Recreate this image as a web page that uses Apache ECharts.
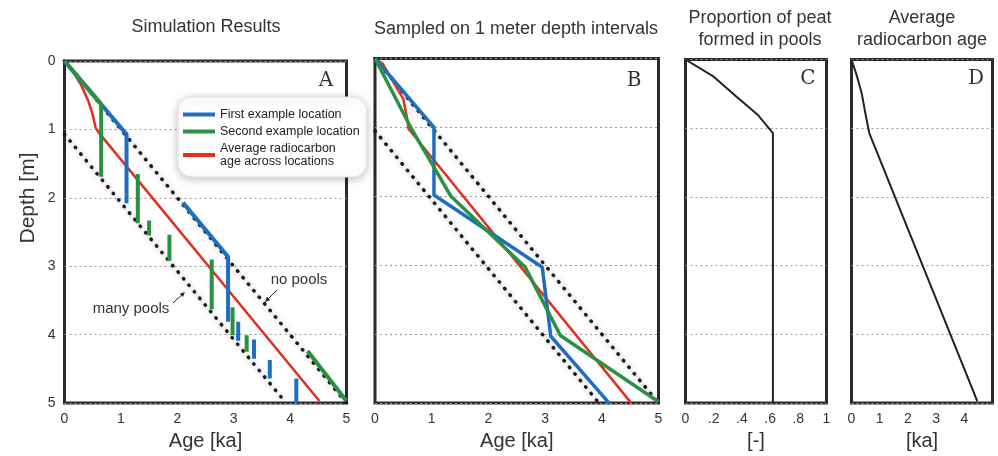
<!DOCTYPE html>
<html>
<head>
<meta charset="utf-8">
<script src="https://cdn.jsdelivr.net/npm/echarts@6/dist/echarts.min.js"></script>
<style>
  html, body { margin: 0; padding: 0; background: #fff; }
  #chart { width: 998px; height: 456px; }
</style>
</head>
<body>
<div id="chart"></div>
<script>
// [age ka, depth m] pairs, null = gap in the line
var ageTicks = [0, 1, 2, 3, 4, 5];
var depthTicks = [0, 1, 2, 3, 4, 5];
var propTicks = ['0', '.2', '.4', '.6', '.8', '1'];

var simBlue = [[0, 0], [1.10, 1.07], [1.10, 2.08], null,
  [2.10, 2.07], [2.90, 2.86], [2.90, 3.81], null,
  [3.08, 3.81], [3.08, 4.09], null,
  [3.36, 4.07], [3.36, 4.35], null,
  [3.64, 4.37], [3.64, 4.64], null,
  [4.11, 4.64], [4.11, 5.0]];
var simGreen = [[0, 0], [0.65, 0.63], [0.65, 1.69], null,
  [1.30, 1.65], [1.30, 2.37], null,
  [1.50, 2.33], [1.50, 2.55], null,
  [1.86, 2.54], [1.86, 2.92], null,
  [2.61, 2.90], [2.61, 3.63], null,
  [2.98, 3.60], [2.98, 4.01], null,
  [3.23, 4.01], [3.23, 4.25], null,
  [4.31, 4.24], [5.0, 4.97]];
var simRed = [[0, 0], [0.15, 0.15], [0.30, 0.36], [0.42, 0.58], [0.50, 0.78], [0.55, 0.97], [0.60, 1.04], [4.52, 4.97]];

var sampBlue = [[0, 0], [1.04, 1.0], [1.04, 1.98], [2.95, 3.03], [3.10, 4.03], [4.13, 5.0]];
var sampGreen = [[0, 0], [0.65, 1.03], [1.34, 2.0], [2.65, 3.03], [3.27, 4.02], [5.0, 4.98]];
var sampRed = [[0, 0], [0.14, 0.08], [0.50, 0.59], [0.57, 0.88], [0.59, 1.02], [4.52, 5.0]];

var noPools = [[0, 0], [5, 5]];
var manyPoolsA = [[0, 1.07], [3.93, 5]];
var manyPoolsB = [[0, 1.05], [3.95, 5]];

var poolFraction = [[0, 0], [0.20, 0.25], [0.36, 0.54], [0.51, 0.80], [0.62, 1.07], [0.62, 5]];
var avgAge = [[0, 0], [0.20, 0.25], [0.36, 0.49], [0.50, 0.80], [0.63, 1.07], [4.46, 4.97]];

var BLUE = '#1f6fc0', GREEN = '#2a9141', RED = '#e2301f', INK = '#2a2a2a', TXT = '#333';
var FONT = 'Liberation Sans';
var nameBlue = 'First example location';
var nameGreen = 'Second example location';
var nameRed = 'Average radiocarbon\nage across locations';

var myChart = echarts.init(document.getElementById('chart'));

function grid(left, top, right, bottom) {
    return {
        left: left, top: top, width: right - left, height: bottom - top,
        show: true, borderColor: INK, borderWidth: 3, backgroundColor: 'transparent'
    };
}

function xAx(idx, max, name, fmt) {
    return {
        gridIndex: idx, type: 'value', min: 0, max: max, interval: max / 5,
        axisLine: { show: false }, axisTick: { show: false }, splitLine: { show: false },
        axisLabel: { color: TXT, fontSize: 14, fontFamily: FONT, margin: 9, formatter: fmt },
        name: name, nameLocation: 'middle', nameGap: 24,
        nameTextStyle: { color: TXT, fontSize: 20, fontFamily: FONT }
    };
}

function yAx(idx, showLabel) {
    return {
        gridIndex: idx, type: 'value', inverse: true, min: 0, max: 5, interval: 1,
        axisLine: { show: false }, axisTick: { show: false },
        axisLabel: { show: showLabel, color: TXT, fontSize: 14, fontFamily: FONT, margin: 9,
            formatter: function (v) { return depthTicks.indexOf(v) >= 0 ? String(v) : ''; } },
        splitLine: { show: true, lineStyle: { type: [2, 3], color: '#9a9a9a', width: 1 } }
    };
}

function line(name, idx, data, color, width, z) {
    return {
        name: name, type: 'line', xAxisIndex: idx, yAxisIndex: idx, data: data,
        showSymbol: false, symbol: 'none', connectNulls: false, z: z || 3, silent: true,
        lineStyle: { color: color, width: width, cap: 'butt' }, itemStyle: { color: color }
    };
}

function dotted(idx, data) {
    return {
        name: 'bound', type: 'line', xAxisIndex: idx, yAxisIndex: idx, data: data,
        symbol: 'none', silent: true, z: 2,
        lineStyle: { color: '#1a1a1a', width: 3.5, type: [0.5, 8], cap: 'round',
            shadowBlur: 5, shadowColor: 'rgba(0,0,0,0.35)' }
    };
}

function text(x, y, str, size, extra) {
    var s = { text: str, fill: TXT, font: size + 'px "' + FONT + '"', textAlign: 'center', textVerticalAlign: 'middle' };
    for (var k in extra) s[k] = extra[k];
    return { type: 'text', x: x, y: y, style: s, z: 100 };
}

function arrow(x1, y1, x2, y2) {
    var dx = x2 - x1, dy = y2 - y1, L = Math.sqrt(dx * dx + dy * dy);
    var ux = dx / L, uy = dy / L, bx = x2 - 5 * ux, by = y2 - 5 * uy;
    return [
        { type: 'line', shape: { x1: x1, y1: y1, x2: bx, y2: by }, style: { stroke: '#222', lineWidth: 1 }, z: 100 },
        { type: 'polygon', shape: { points: [[x2, y2], [bx + 2.3 * uy, by - 2.3 * ux], [bx - 2.3 * uy, by + 2.3 * ux]] },
          style: { fill: '#222' }, z: 100 }
    ];
}

var letterFont = 'DejaVu Serif';

option = {
    animation: false,
    textStyle: { fontFamily: FONT },
    grid: [
        grid(64.5, 61, 346.5, 406),
        grid(375, 58.5, 658.5, 403.5),
        grid(685.5, 59.5, 826.5, 404),
        grid(851.5, 59.5, 992.5, 404)
    ],
    xAxis: [
        xAx(0, 5, 'Age [ka]'),
        xAx(1, 5, 'Age [ka]'),
        xAx(2, 1, '[-]', function (v) { return propTicks[Math.round(v * 5)]; }),
        xAx(3, 5, '[ka]', function (v) { return v < 5 ? String(v) : ''; })
    ],
    yAxis: [yAx(0, true), yAx(1, false), yAx(2, false), yAx(3, false)],
    legend: {
        data: [nameBlue, nameGreen, nameRed],
        orient: 'vertical', left: 178, top: 97,
        padding: [11, 7, 9, 5], itemGap: 4, itemWidth: 32, itemHeight: 4,
        icon: 'rect', selectedMode: false,
        textStyle: { color: '#222', fontSize: 12.5, fontFamily: FONT, lineHeight: 13 },
        backgroundColor: '#fff', borderColor: '#e2e2e2', borderWidth: 1, borderRadius: 14,
        shadowBlur: 10, shadowColor: 'rgba(0,0,0,0.25)', shadowOffsetY: 2, z: 20
    },
    series: [
        dotted(0, noPools),
        dotted(0, manyPoolsA),
        line(nameRed, 0, simRed, RED, 2.5, 3),
        line(nameBlue, 0, simBlue, BLUE, 4, 4),
        line(nameGreen, 0, simGreen, GREEN, 4, 5),

        dotted(1, noPools),
        dotted(1, manyPoolsB),
        line(nameRed, 1, sampRed, RED, 2.5, 3),
        line(nameBlue, 1, sampBlue, BLUE, 3.5, 4),
        line(nameGreen, 1, sampGreen, GREEN, 3.5, 5),

        line('pool fraction', 2, poolFraction, '#222', 2, 3),
        line('average age', 3, avgAge, '#222', 2, 3)
    ],
    graphic: [
        text(206, 27, 'Simulation Results', 18),
        text(516, 29, 'Sampled on 1 meter depth intervals', 18),
        text(760, 18, 'Proportion of peat', 18),
        text(760, 40, 'formed in pools', 18),
        text(922, 18, 'Average', 18),
        text(922, 40, 'radiocarbon age', 18),
        { type: 'text', x: 28, y: 198, rotation: Math.PI / 2, z: 100,
          style: { text: 'Depth [m]', fill: TXT, font: '21px "' + FONT + '"', textAlign: 'center', textVerticalAlign: 'middle' } },
        text(326, 81, 'A', 20, { font: '20px "' + letterFont + '"' }),
        text(634, 81, 'B', 20, { font: '20px "' + letterFont + '"' }),
        text(808, 79, 'C', 20, { font: '20px "' + letterFont + '"' }),
        text(976, 79, 'D', 20, { font: '20px "' + letterFont + '"' }),
        text(299, 280, 'no pools', 15),
        text(131, 309, 'many pools', 15)
    ].concat(arrow(277, 290, 265, 302), arrow(173, 303, 185, 292))
};
myChart.setOption(option);
</script>
</body>
</html>
